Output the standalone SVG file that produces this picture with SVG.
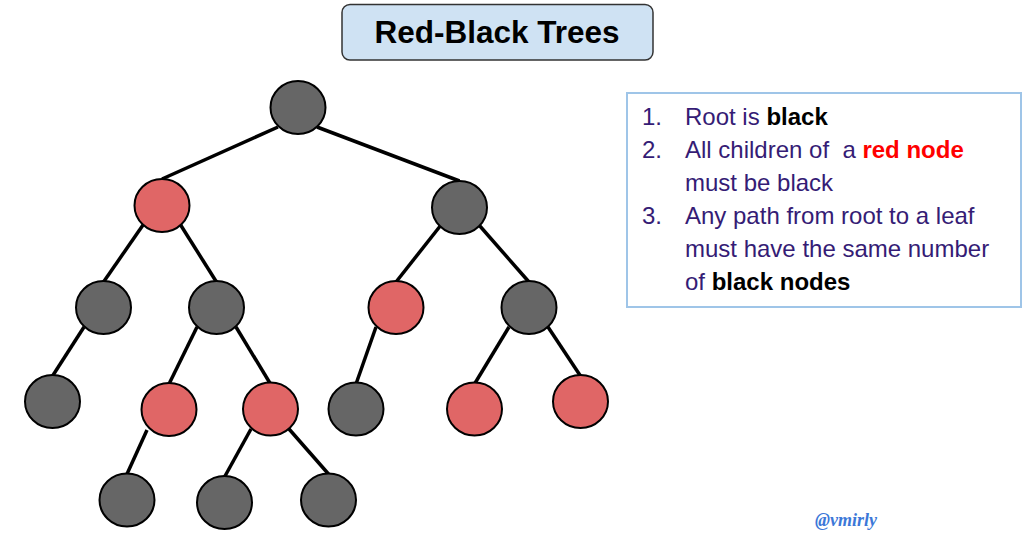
<svg xmlns="http://www.w3.org/2000/svg" width="1030" height="545" viewBox="0 0 1030 545">
<style>
.blk{fill:#666666;stroke:#000;stroke-width:2}
.red{fill:#e06666;stroke:#000;stroke-width:2}
.edge{stroke:#000;stroke-width:3.5;stroke-linecap:butt;fill:none}
.rule{font-family:"Liberation Sans",Arial,sans-serif;font-size:24px;fill:#351c75}
.b{font-weight:bold;fill:#000}
.r{font-weight:bold;fill:#ff0000}
</style>
<rect width="1030" height="545" fill="#ffffff"/>
<g id="title">
<rect x="342" y="4.5" width="311" height="55.5" rx="8" ry="8" fill="#cfe2f3" stroke="#333333" stroke-width="1.5"/>
<text x="497" y="43" text-anchor="middle" font-family="Liberation Sans,Arial,sans-serif" font-size="31.5" font-weight="bold" fill="#000">Red-Black Trees</text>
</g>
<g id="connectors">
<line class="edge" x1="278" y1="127" x2="162" y2="179"/>
<line class="edge" x1="317" y1="127" x2="459.5" y2="181"/>
<line class="edge" x1="143" y1="225" x2="103.5" y2="282"/>
<line class="edge" x1="180" y1="224" x2="216.5" y2="282"/>
<line class="edge" x1="441" y1="225" x2="396" y2="282"/>
<line class="edge" x1="479" y1="225" x2="529" y2="282"/>
<line class="edge" x1="84" y1="327" x2="52.5" y2="376"/>
<line class="edge" x1="197" y1="327" x2="169" y2="384"/>
<line class="edge" x1="236" y1="327" x2="270.5" y2="384"/>
<line class="edge" x1="376" y1="327" x2="356" y2="384"/>
<line class="edge" x1="509" y1="327" x2="474.5" y2="384"/>
<line class="edge" x1="548" y1="327" x2="580.5" y2="376"/>
<line class="edge" x1="147" y1="430" x2="127" y2="474"/>
<line class="edge" x1="251" y1="429" x2="224.5" y2="477"/>
<line class="edge" x1="289" y1="429" x2="328.5" y2="474"/>
</g>
<g id="n-root"><ellipse class="blk" cx="298" cy="107.5" rx="27.5" ry="26.5"/></g>
<g id="n-l1a"><ellipse class="red" cx="162" cy="205.5" rx="27.5" ry="26.5"/></g>
<g id="n-l1b"><ellipse class="blk" cx="459.5" cy="207.5" rx="27.5" ry="26.5"/></g>
<g id="n-l2a"><ellipse class="blk" cx="103.5" cy="307.5" rx="27.5" ry="26.5"/></g>
<g id="n-l2b"><ellipse class="blk" cx="216.5" cy="307.5" rx="27.5" ry="26.5"/></g>
<g id="n-l2c"><ellipse class="red" cx="396" cy="307.5" rx="27.5" ry="26.5"/></g>
<g id="n-l2d"><ellipse class="blk" cx="529" cy="307.5" rx="27.5" ry="26.5"/></g>
<g id="n-l3a"><ellipse class="blk" cx="52.5" cy="401.5" rx="27.5" ry="26.5"/></g>
<g id="n-l3b"><ellipse class="red" cx="169" cy="409.5" rx="27.5" ry="26.5"/></g>
<g id="n-l3c"><ellipse class="red" cx="270.5" cy="409" rx="27.5" ry="26.5"/></g>
<g id="n-l3d"><ellipse class="blk" cx="356" cy="409" rx="27.5" ry="26.5"/></g>
<g id="n-l3e"><ellipse class="red" cx="474.5" cy="409" rx="27.5" ry="26.5"/></g>
<g id="n-l3f"><ellipse class="red" cx="580.5" cy="401.5" rx="27.5" ry="26.5"/></g>
<g id="n-l4a"><ellipse class="blk" cx="127" cy="500" rx="27.5" ry="26.5"/></g>
<g id="n-l4b"><ellipse class="blk" cx="224.5" cy="502.5" rx="27.5" ry="26.5"/></g>
<g id="n-l4c"><ellipse class="blk" cx="328.5" cy="500" rx="27.5" ry="26.5"/></g>
<g id="rules">
<rect x="627" y="93" width="394" height="214" fill="#ffffff" stroke="#9fc5e8" stroke-width="2"/>
<text class="rule" x="642" y="125">1.</text>
<text class="rule" x="685" y="125">Root is <tspan class="b">black</tspan></text>
<text class="rule" x="642" y="158">2.</text>
<text class="rule" x="685" y="158" xml:space="preserve">All children of  a <tspan class="r">red node</tspan></text>
<text class="rule" x="685" y="191">must be black</text>
<text class="rule" x="642" y="224">3.</text>
<text class="rule" x="685" y="224">Any path from root to a leaf</text>
<text class="rule" x="685" y="257">must have the same number</text>
<text class="rule" x="685" y="290">of <tspan class="b">black nodes</tspan></text>
</g>
<g id="watermark">
<text x="815" y="526" font-family="Liberation Serif,serif" font-style="italic" font-weight="bold" font-size="18" fill="#3c78d8">@vmirly</text>
</g>
</svg>
